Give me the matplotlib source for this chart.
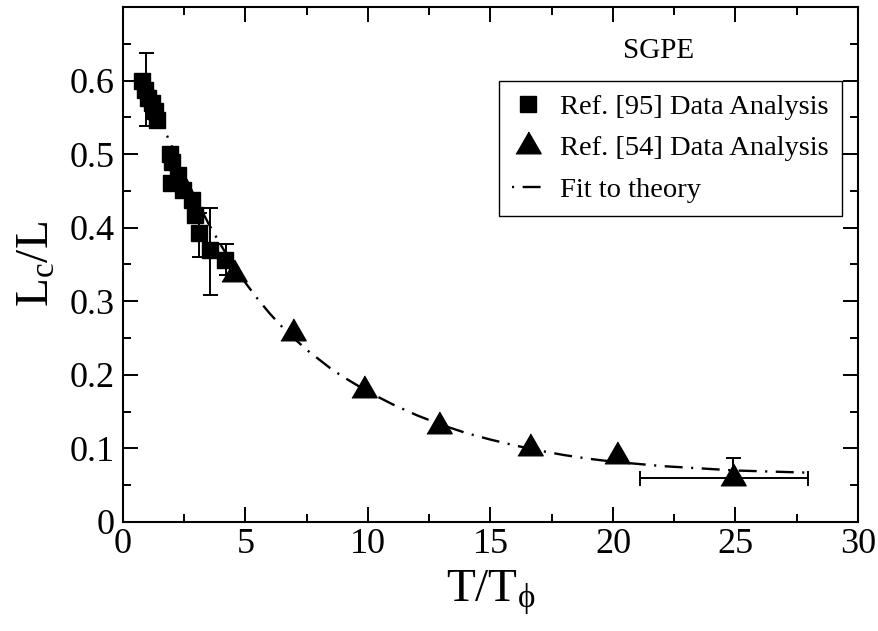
import matplotlib
matplotlib.use('Agg')
import matplotlib.pyplot as plt
from matplotlib.ticker import FixedLocator, MultipleLocator
from matplotlib.lines import Line2D

plt.rcParams['font.family'] = ['Liberation Serif', 'DejaVu Serif']
plt.rcParams['mathtext.fontset'] = 'custom'
plt.rcParams['mathtext.rm'] = 'Liberation Serif'
plt.rcParams['mathtext.it'] = 'Liberation Serif'

# Ref. [95] data (squares)
sq_x = [0.76, 0.90, 1.03, 1.17, 1.31, 1.37, 1.92, 1.99, 1.96, 2.26, 2.46, 2.80, 2.94, 3.10, 3.55, 4.16]
sq_y = [0.599, 0.587, 0.576, 0.569, 0.558, 0.547, 0.500, 0.489, 0.461, 0.472, 0.451, 0.438, 0.417, 0.393, 0.370, 0.356]
sq_eb_x = [0.94, 3.10, 3.55, 4.20]
sq_eb_y = [0.588, 0.390, 0.368, 0.357]
sq_eb_err = [0.050, 0.030, 0.059, 0.021]

# Ref. [54] data (triangles)
tri_x = [4.53, 6.95, 9.82, 12.88, 16.62, 20.18, 24.88]
tri_y = [0.337, 0.257, 0.180, 0.130, 0.1006, 0.090, 0.0604]
tri_eb_x = [24.88]
tri_eb_y = [0.0604]
tri_eb_yerr_up = [0.027]
tri_eb_xerr_lo = [3.78]
tri_eb_xerr_hi = [3.07]

# Fit to theory
fit_x = [0.9, 1.0, 1.3, 1.6, 2.0, 2.5, 3.0, 3.5, 4.0, 4.5, 5.0, 5.5, 6.0, 6.5, 7.0, 7.5, 8.0, 8.5, 9.0, 9.5,
         10, 11, 12, 13, 14, 15, 16, 17, 18, 19, 20, 21, 22, 23, 24, 25, 26, 27, 28]
fit_y = [0.606, 0.598, 0.570, 0.540, 0.510, 0.472, 0.437, 0.405, 0.376, 0.349, 0.325, 0.303, 0.283, 0.265,
         0.249, 0.234, 0.221, 0.208, 0.197, 0.187, 0.177, 0.160, 0.145, 0.132, 0.121, 0.112, 0.104, 0.097,
         0.091, 0.086, 0.082, 0.079, 0.076, 0.074, 0.072, 0.070, 0.069, 0.068, 0.067]

y_ticks = [0, 0.1, 0.2, 0.3, 0.4, 0.5, 0.6]
y_tick_labels = ['0', '0.1', '0.2', '0.3', '0.4', '0.5', '0.6']
x_ticks = [0, 5, 10, 15, 20, 25, 30]

tri_marker = [(-0.577, -1/3), (0.577, -1/3), (0, 2/3)]

fig = plt.figure(figsize=(8.79, 6.31), dpi=100)
ax = fig.add_axes([123/879, 1 - 522/631, (858-123)/879, (522-7)/631])

dash = (0, (7.6, 3.6, 0.9, 3.6))
ax.plot(fit_x, fit_y, color='black', lw=1.7, linestyle=dash, dash_capstyle='butt', zorder=2)

ax.errorbar(sq_eb_x, sq_eb_y, yerr=sq_eb_err, fmt='none', ecolor='black', elinewidth=1.4,
            capsize=5.4, capthick=1.4, zorder=3)
ax.errorbar(tri_eb_x, tri_eb_y, yerr=[[0], tri_eb_yerr_up], xerr=[tri_eb_xerr_lo, tri_eb_xerr_hi],
            fmt='none', ecolor='black', elinewidth=1.4, capsize=5.4, capthick=1.4, zorder=3)

ax.plot(sq_x, sq_y, linestyle='none', marker='s', ms=12, color='black', zorder=4)
ax.plot(tri_x, tri_y, linestyle='none', marker=tri_marker, ms=21, color='black', zorder=4)

ax.set_xlim(0, 30)
ax.set_ylim(0, 0.7)
ax.xaxis.set_major_locator(FixedLocator(x_ticks))
ax.xaxis.set_minor_locator(MultipleLocator(2.5))
ax.yaxis.set_major_locator(FixedLocator(y_ticks))
ax.set_yticklabels(y_tick_labels)
ax.yaxis.set_minor_locator(MultipleLocator(0.05))

ax.tick_params(which='both', direction='in', top=True, right=True, width=1.4, labelsize=26)
ax.tick_params(which='major', length=11)
ax.tick_params(which='minor', length=5.5)
ax.tick_params(axis='x', pad=4)
ax.tick_params(axis='y', pad=6)
for s in ax.spines.values():
    s.set_linewidth(1.5)

ax.set_xlabel(r'$\mathrm{T/T_{\phi}}$', fontsize=34, labelpad=6)
ax.set_ylabel(r'$\mathrm{L_c/L}$', fontsize=34, labelpad=8)

ax.text(0.728, 0.901, 'SGPE', transform=ax.transAxes, fontsize=21, ha='center', va='baseline')

handles = [
    Line2D([], [], linestyle='none', marker='s', ms=12, color='black'),
    Line2D([], [], linestyle='none', marker=tri_marker, ms=21, color='black'),
    Line2D([], [], color='black', lw=1.7, linestyle=(0, (0.9, 3.6, 7.6, 3.6))),
]
labels = ['Ref. [95] Data Analysis', 'Ref. [54] Data Analysis', 'Fit to theory']
leg = ax.legend(handles, labels, loc='upper right', bbox_to_anchor=(0.978, 0.856), fontsize=20.5,
                frameon=True, fancybox=False, edgecolor='black', framealpha=1,
                borderpad=0.45, handlelength=1.1, handletextpad=0.6, labelspacing=0.55,
                borderaxespad=0)
leg.get_frame().set_linewidth(1.0)

fig.savefig('out.png', dpi=100)
